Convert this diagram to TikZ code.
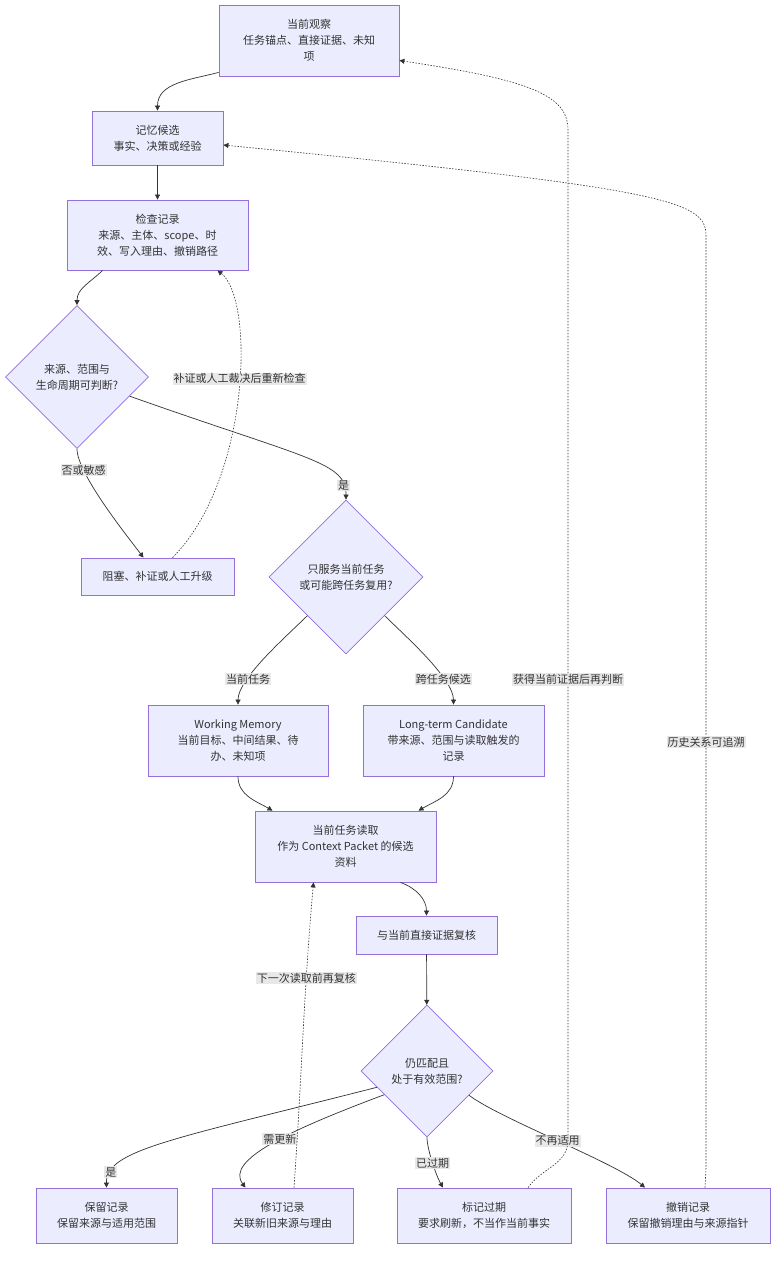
\documentclass[tikz,border=0pt]{standalone}
\usepackage{fontspec}
\setmainfont{Noto Sans CJK SC}
\usetikzlibrary{shapes.geometric,arrows.meta}
\definecolor{boxfill}{HTML}{ECECFF}
\definecolor{boxline}{HTML}{9370DB}
\definecolor{ink}{HTML}{333333}
\definecolor{lblfill}{HTML}{E8E8E8}

\begin{document}
\begin{tikzpicture}[x=1pt,y=1pt,
	every node/.style={font=\fontsize{11}{16}\selectfont, text=ink},
	box/.style={rectangle, draw=boxline, fill=boxfill, line width=0.8pt, align=center, inner sep=2pt},
	ask/.style={diamond, aspect=1, draw=boxline, fill=boxfill, line width=0.8pt, align=center, inner sep=0pt},
	flow/.style={draw=ink, line width=0.7pt, -{Triangle[length=5pt,width=5pt]}},
	back/.style={flow, line width=0.6pt, dash pattern=on 1.5pt off 1.5pt},
	lbl/.style={fill=lblfill, inner sep=1pt}]
	\path [fill=white, use as bounding box] (0,0) rectangle (784,-1262);

	\node at (309,-40.5) [box, minimum width=180, minimum height=71] (obs) {当前观察\\任务锚点、直接证据、未知\\项};
	\node at (157.5,-138) [box, minimum width=131, minimum height=54] (cand) {记忆候选\\事实、决策或经验};
	\node at (157.5,-235) [box, minimum width=181, minimum height=70] (check) {检查记录\\来源、主体、scope、时\\效、写入理由、撤销路径};
	\node at (77,-377) [ask, minimum size=143] (ok1) {来源、范围与\\生命周期可判断?};
	\node at (157.5,-576.5) [box, minimum width=153, minimum height=37] (block) {阻塞、补证或人工升级};
	\node at (346,-577) [ask, minimum size=154] (scope) {只服务当前任务\\或可能跨任务复用?};
	\node at (238,-740.5) [box, minimum width=180, minimum height=71] (wm) {Working Memory\\当前目标、中间结果、待\\办、未知项};
	\node at (453.5,-740.5) [box, minimum width=181, minimum height=71] (lt) {Long-term Candidate\\带来源、范围与读取触发的\\记录};
	\node at (345.5,-846.5) [box, minimum width=181, minimum height=71] (read) {当前任务读取\\作为 Context Packet 的候选\\资料};
	\node at (426.5,-935) [box, minimum width=141, minimum height=38] (verify) {与当前直接证据复核};
	\node at (427,-1071) [ask, minimum size=132] (ok2) {仍匹配且\\处于有效范围?};
	\node at (106.5,-1215.5) [box, minimum width=141, minimum height=55] (keep) {保留记录\\保留来源与适用范围};
	\node at (282.5,-1215.5) [box, minimum width=141, minimum height=55] (revise) {修订记录\\关联新旧来源与理由};
	\node at (484,-1215.5) [box, minimum width=174, minimum height=55] (expire) {标记过期\\要求刷新，不当作当前事实};
	\node at (688,-1215.5) [box, minimum width=164, minimum height=55] (revoke) {撤销记录\\保留撤销理由与来源指针};

	\draw [flow] ([yshift=4]obs.south west) to[out=195,in=90] (cand.north);
	\draw [flow] (cand) -- (check);
	\draw [flow] ([xshift=-55]check.south) to[out=225,in=90] (ok1.north);
	\draw [flow] (ok1.south) to[out=-90,in=127,looseness=0.5] node[pos=0.22, lbl] {否或敏感} ([xshift=-14]block.north);
	\draw [flow] (ok1.-20) .. controls (310,-460) and (346,-462) .. node[pos=0.86, lbl] {是} (scope.north);
	\draw [back] ([xshift=15]block.north) .. controls (250,-480) and (255,-300) .. node[pos=0.55, lbl] {补证或人工裁决后重新检查} ([xshift=60]check.south);
	\draw [flow] (scope.-135) to[out=-135,in=90,looseness=0.6] node[pos=0.72, lbl] {当前任务} (wm.north);
	\draw [flow] (scope.-45) to[out=-45,in=90,looseness=0.6] node[pos=0.72, lbl] {跨任务候选} (lt.north);
	\draw [flow] (wm.south) to[out=-90,in=150] ([xshift=-73]read.north);
	\draw [flow] (lt.south) to[out=-90,in=30] ([xshift=73]read.north);
	\draw [flow] ([xshift=55]read.south) to[out=-20,in=90] (verify.north);
	\draw [flow] (verify) -- (ok2);
	\draw [flow] (ok2.-162) .. controls (170,-1140) and (106,-1150) .. node[pos=0.85, lbl] {是} (keep.north);
	\draw [flow] (ok2.-151) .. controls (290,-1130) and (225,-1160) .. node[pos=0.45, lbl] {需更新} ([xshift=-37]revise.north);
	\draw [flow] (ok2.south) to[out=-90,in=120,looseness=0.6] node[pos=0.5, lbl] {已过期} ([xshift=-41]expire.north);
	\draw [flow] (ok2.-30) to[out=-37,in=140,looseness=0.5] node[pos=0.5, lbl] {不再适用} ([xshift=-43]revoke.north);
	\draw [back] ([xshift=11.5]revise.north) to[out=86,in=-95] node[pos=0.7, lbl] {下一次读取前再复核} ([xshift=-32]read.south);
	\draw [back] ([xshift=44]expire.north) to[out=55,in=-90] (568,-1140) -- node[pos=0.456, lbl] {获得当前证据后再判断} (568,-130) .. controls (568,-95) and (530,-80) .. ([yshift=-20]obs.east);
	\draw [back] ([xshift=17]revoke.north) to[out=88,in=-90] (706,-1165) -- node[pos=0.455, lbl] {历史关系可追溯} (706,-235) .. controls (706,-200) and (660,-188) .. ([yshift=-7]cand.east);
\end{tikzpicture}
\end{document}
